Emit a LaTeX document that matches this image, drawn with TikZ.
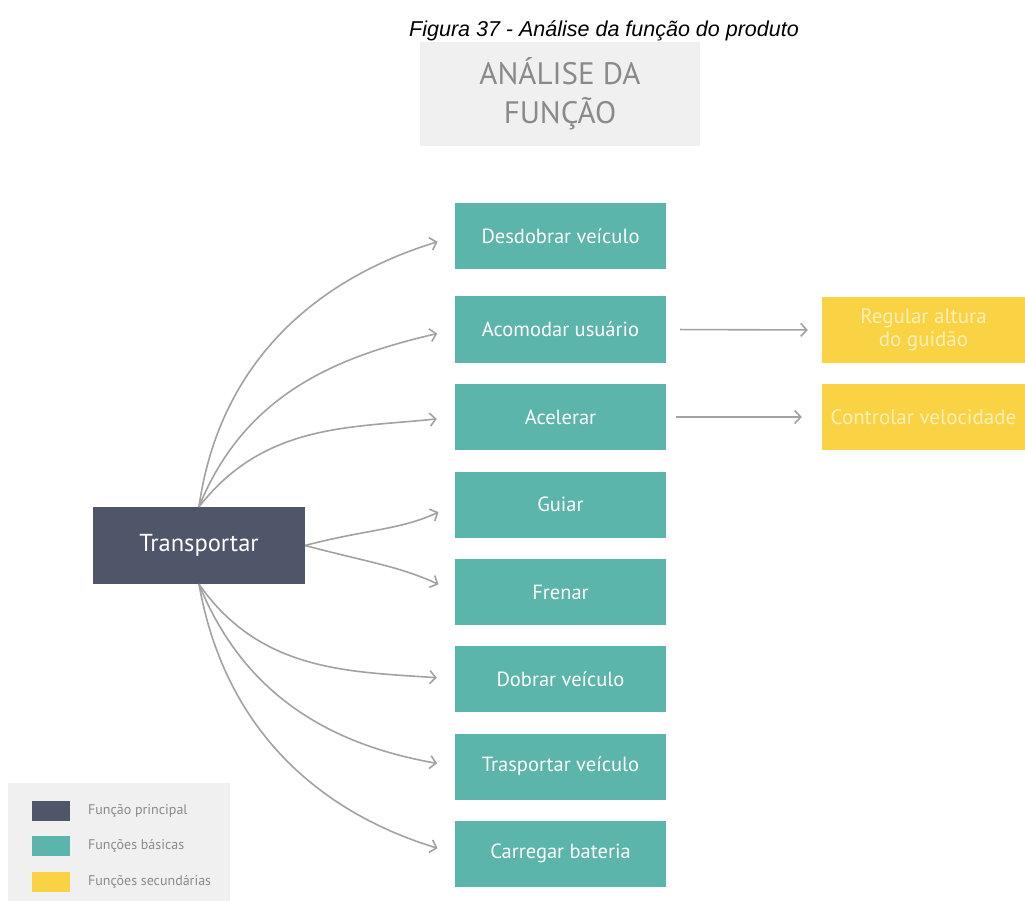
\documentclass[tikz,border=0pt]{standalone}
\usepackage{fontspec}
\setmainfont{PT Sans}
\newfontfamily\capfont{Liberation Sans}
\usetikzlibrary{arrows.meta}
\definecolor{basicteal}{HTML}{5BB5AB}
\definecolor{maindark}{HTML}{505669}
\definecolor{secyellow}{HTML}{F9D343}
\definecolor{secytext}{HTML}{FCEFB8}
\definecolor{arrowgray}{HTML}{A2A2A2}
\definecolor{panelbg}{HTML}{F0F0F0}
\definecolor{paneltext}{HTML}{8A8A8A}
\begin{document}
\begin{tikzpicture}[x=1pt,y=-1pt,
  basicbox/.style={fill=basicteal, minimum width=211pt, minimum height=66pt, inner sep=0pt,
    text=white, font=\fontsize{20.5}{24}\selectfont},
  secbox/.style={fill=secyellow, minimum width=203pt, minimum height=66pt, inner sep=0pt,
    text=secytext, align=center, font=\fontsize{21}{23}\selectfont},
  mainbox/.style={fill=maindark, minimum width=212pt, minimum height=77pt, inner sep=0pt,
    text=white, font=\fontsize{24.5}{28}\selectfont},
  link/.style={draw=arrowgray, line width=1.6pt, -{Straight Barb[length=6pt,width=13pt,line width=1.6pt]},
    shorten >=18pt},
  swatch/.style={minimum width=38pt, minimum height=20pt, inner sep=0pt},
  legtext/.style={anchor=west, text=paneltext, font=\fontsize{14}{16}\selectfont, inner sep=0pt}]
\useasboundingbox (0,0) rectangle (1025,901);
\fill[white] (0,0) rectangle (1025,901);

% caption and heading
\node (cap) at (604,31) {\capfont\itshape\fontsize{21.5}{25}\selectfont Figura 37 - Análise da função do produto};
\node[fill=panelbg, minimum width=280pt, minimum height=104pt, inner sep=0pt, align=center,
  text=paneltext, font=\fontsize{31}{39}\selectfont] (title) at (560,94) {ANÁLISE DA\\FUNÇÃO};

% main function
\node[mainbox] (tr) at (199,545.5) {Transportar};

% basic functions
\node[basicbox] (b1) at (560.5,236.5) {Desdobrar veículo};
\node[basicbox] (b2) at (560.5,329.5) {Acomodar usuário};
\node[basicbox] (b3) at (560.5,417) {Acelerar};
\node[basicbox] (b4) at (560.5,504.5) {Guiar};
\node[basicbox] (b5) at (560.5,592) {Frenar};
\node[basicbox] (b6) at (560.5,679) {Dobrar veículo};
\node[basicbox] (b7) at (560.5,766.5) {Trasportar veículo};
\node[basicbox] (b8) at (560.5,853.5) {Carregar bateria};

% secondary functions
\node[secbox] (s1) at (923.5,330) {Regular altura\\do guidão};
\node[secbox] (s2) at (923.5,417) {Controlar velocidade};

% connectors
\draw[link] (tr.north) to[out=82,in=197] (b1.west);
\draw[link] (tr.north) to[out=68,in=193] (b2.west);
\draw[link] (tr.north) to[out=52,in=186] (b3.west);
\draw[link] (tr.east) to[out=15,in=205] (b4.west);
\draw[link] (tr.east) to[out=-15,in=155] (b5.west);
\draw[link] (tr.south) to[out=-55,in=176] (b6.west);
\draw[link] (tr.south) to[out=-68,in=170] (b7.west);
\draw[link] (tr.south) to[out=-80,in=163] (b8.west);
\draw[link, shorten <=14pt, shorten >=14pt] (b2.east) -- (s1.west);
\draw[link, shorten <=10pt, shorten >=20pt] (b3.east) -- (s2.west);

% legend
\fill[panelbg] (8,783) rectangle (230,901);
\node[swatch, fill=maindark] (k1) at (51,811) {};
\node[swatch, fill=basicteal] (k2) at (51,846) {};
\node[swatch, fill=secyellow] (k3) at (51,882) {};
\node[legtext] (l1) at (88,811) {Função principal};
\node[legtext] (l2) at (88,846) {Funções básicas};
\node[legtext] (l3) at (88,882) {Funções secundárias};
\end{tikzpicture}
\end{document}
